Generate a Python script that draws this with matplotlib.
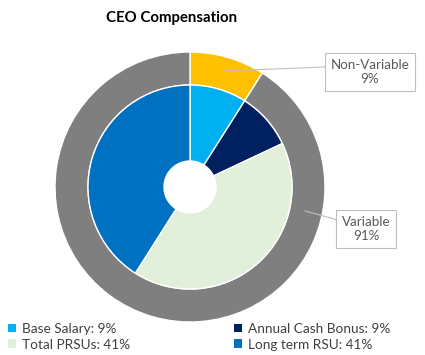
import matplotlib
matplotlib.use("Agg")
import matplotlib.pyplot as plt

plt.rcParams['font.family'] = ['Lato', 'DejaVu Sans']

# data
outer_labels = ["Non-Variable", "Variable"]
outer_values = [9, 91]
outer_colors = ["#FFC000", "#7F7F7F"]

inner_labels = ["Base Salary", "Annual Cash Bonus", "Total PRSUs", "Long term RSU"]
inner_values = [9, 9, 41, 41]
inner_colors = ["#00B0F0", "#002060", "#E2EFDA", "#0070C0"]

W, H = 425, 355
fig = plt.figure(figsize=(4.25, 3.55), dpi=100)
ax = fig.add_axes([0, 0, 1, 1])
ax.set_xlim(0, W)
ax.set_ylim(0, H)
ax.set_aspect('equal')
ax.axis('off')

cx, cy = 190, H - 187
r_out, r_in, r_hole = 135, 102, 26

ax.pie(outer_values, radius=r_out, center=(cx, cy), colors=outer_colors,
       startangle=90, counterclock=False,
       wedgeprops=dict(width=r_out - r_in, edgecolor='white', linewidth=1))
wedges, _ = ax.pie(inner_values, radius=r_in, center=(cx, cy), colors=inner_colors,
                   startangle=90, counterclock=False,
                   wedgeprops=dict(width=r_in - r_hole, edgecolor='white', linewidth=1))
ax.set_xlim(0, W)
ax.set_ylim(0, H)

ax.text(172, H - 18, "CEO Compensation", ha='center', va='center',
        fontsize=10.8, fontweight='bold', color='black')

# data labels with leader lines
box = dict(boxstyle='square,pad=0.4', fc='white', ec='#BFBFBF', lw=0.8)
ax.annotate(f"{outer_labels[0]}\n{outer_values[0]}%", xy=(225, H - 71), xytext=(370, H - 72),
            ha='center', va='center', fontsize=9.6, color='#595959', bbox=box,
            linespacing=1.25,
            arrowprops=dict(arrowstyle='-', color='#BFBFBF', lw=0.8, shrinkA=0, shrinkB=0,
                            relpos=(0, 0.7)))
ax.annotate(f"{outer_labels[1]}\n{outer_values[1]}%", xy=(305, H - 211), xytext=(366, H - 229),
            ha='center', va='center', fontsize=9.6, color='#595959', bbox=box,
            linespacing=1.25,
            arrowprops=dict(arrowstyle='-', color='#BFBFBF', lw=0.8, shrinkA=0, shrinkB=0,
                            relpos=(0, 0.8)))

# legend filled row by row
order = [0, 2, 1, 3]
leg = fig.legend([wedges[i] for i in order],
                 [f"{inner_labels[i]}: {inner_values[i]}%" for i in order],
                 ncol=2, loc='lower left', bbox_to_anchor=(-0.01, -0.022),
                 frameon=False, fontsize=9.8, handlelength=0.6, handleheight=0.6,
                 handletextpad=0.45, columnspacing=7.6, labelspacing=0.28,
                 labelcolor='#404040')
for h in leg.legend_handles:
    h.set_edgecolor('none')

fig.savefig("out.png", dpi=100)
